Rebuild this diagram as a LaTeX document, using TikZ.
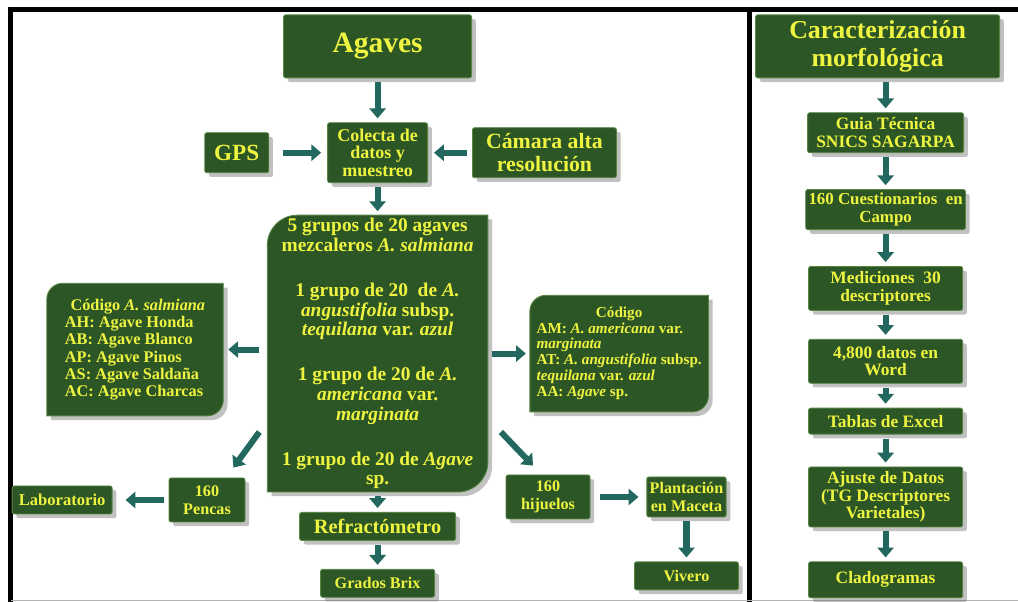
\documentclass[tikz,border=0pt]{standalone}
\usepackage{fontspec}
\setmainfont{Liberation Serif}
\usepackage{tikz}
\usetikzlibrary{arrows.meta,positioning,shadows,backgrounds,calc}
\definecolor{boxgreen}{RGB}{44,86,38}
\definecolor{edgegreen}{RGB}{86,134,66}
\definecolor{txtyellow}{RGB}{238,244,64}
\definecolor{arrowteal}{RGB}{34,104,94}

% green panel with two rounded corners (top left, bottom right)
\newcommand{\diagback}[2]{%
  \fill[boxgreen,draw=edgegreen,line width=0.6pt,
        drop shadow={shadow xshift=3pt,shadow yshift=-3pt,opacity=0.4,fill=black!60}]
    ([yshift=-#2]#1.north west) arc[start angle=180,end angle=90,radius=#2]
    -- (#1.north east) -- ([yshift=#2]#1.south east)
    arc[start angle=0,end angle=-90,radius=#2] -- (#1.south west) -- cycle;}

\begin{document}
\begin{tikzpicture}[node distance=8mm,
    box/.style={draw=edgegreen,line width=0.6pt,fill=boxgreen,rounded corners=1.5pt,
                text=txtyellow,align=center,inner sep=2pt,
                drop shadow={shadow xshift=3pt,shadow yshift=-3pt,opacity=0.4,fill=black!60}},
    diag/.style={text=txtyellow,inner sep=2pt},
    fsz/.style 2 args={font=\bfseries\fontsize{#1}{#2}\selectfont},
    sz/.style 2 args={minimum width=#1,minimum height=#2},
    flow/.style={arrowteal,line width=4.3pt,-{Triangle[width=11.5pt,length=7pt]},
                 shorten >=1mm,shorten <=1mm}]
  \useasboundingbox (0,0) rectangle (254.5mm,-150.5mm);
  % frame
  \draw[line width=1.3mm] (2mm,-2.3mm) -- (254.5mm,-2.3mm);
  \draw[line width=1.3mm] (2.7mm,-2.3mm) -- (2.7mm,-150.5mm);
  \draw[line width=1.3mm] (187.4mm,-2.3mm) -- (187.4mm,-150.5mm);
  \draw[gray!60,line width=0.4pt] (2.7mm,-150.1mm) -- (254.5mm,-150.1mm);

  % left panel
  \node[box,fsz={21}{23},sz={47mm}{15.75mm}] (agaves) at (94.4mm,-11.6mm) {Agaves};
  \node[box,fsz={12.8}{12.3},sz={25mm}{15mm},below=11mm of agaves] (colecta)
       {Colecta de\\datos y\\muestreo};
  \node[box,fsz={16.5}{18},sz={16mm}{10mm},left=14.5mm of colecta] (gps) {GPS};
  \node[box,fsz={15.5}{16},sz={36mm}{12.5mm},right=11mm of colecta] (camara)
       {Cámara alta\\resolución};
  \node[diag,fsz={13.8}{14},sz={55mm}{69mm},align=center,below=8mm of colecta] (grupos)
       {5 grupos de 20 agaves\\
        mezcaleros \textit{A. salmiana}\\[18pt]
        1 grupo de 20~ de \textit{A.}\\
        \textit{angustifolia} subsp.\\
        \textit{tequilana} var. \textit{azul}\\[18pt]
        1 grupo de 20 de \textit{A.}\\
        \textit{americana} var.\\
        \textit{marginata}\\[18pt]
        1 grupo de 20 de \textit{Agave}\\
        sp.};
  \node[diag,fsz={11.6}{12.2},sz={44mm}{33mm},align=left,left=11mm of grupos,yshift=1mm] (codsal)
       {\hspace*{4pt}Código \textit{A. salmiana}\\
        AH: Agave Honda\\
        AB: Agave Blanco\\
        AP: Agave Pinos\\
        AS: Agave Saldaña\\
        AC: Agave Charcas};
  \node[diag,fsz={10.8}{11.2},sz={44.5mm}{29mm},right=10.5mm of grupos] (codotro)
       {\begin{tabular}{@{}l@{}}
        \multicolumn{1}{@{}c@{}}{Código}\\
        AM: \textit{A. americana} var.\\
        \textit{marginata}\\
        AT: \textit{A. angustifolia} subsp.\\
        \textit{tequilana} var. \textit{azul}\\
        AA: \textit{Agave} sp.
        \end{tabular}};
  \node[box,fsz={14.5}{16},sz={39mm}{7mm},below=5mm of grupos] (refr) {Refractómetro};
  \node[box,fsz={11.5}{13},sz={28.5mm}{7mm},below=7mm of refr] (brix) {Grados Brix};
  \node[box,fsz={11.5}{12.5},sz={19mm}{11mm}] (pencas) at (51.75mm,-125mm) {160\\Pencas};
  \node[box,fsz={11.8}{13},sz={25mm}{7mm},left=14mm of pencas] (lab) {Laboratorio};
  \node[box,fsz={11.5}{12.5},sz={21mm}{11mm}] (hijuelos) at (137mm,-124.25mm) {160\\hijuelos};
  \node[box,fsz={11.5}{12.5},sz={19.5mm}{10mm},right=14mm of hijuelos] (maceta)
       {Plantación\\en Maceta};
  \node[box,fsz={11.5}{13},sz={26mm}{7mm},below=11mm of maceta] (vivero) {Vivero};

  \begin{scope}[on background layer]
    \fill[white] (0,0) rectangle (254.5mm,-150.5mm);
    \diagback{grupos}{7.5mm}
    \diagback{codsal}{4mm}
    \diagback{codotro}{4mm}
  \end{scope}

  \draw[flow] (agaves) -- (colecta);
  \draw[flow,shorten <=3.5mm,shorten >=1.5mm] (gps) -- (colecta);
  \draw[flow,shorten <=1.25mm,shorten >=1.5mm] (camara) -- (colecta);
  \draw[flow] (colecta) -- (grupos);
  \draw[flow,shorten <=2mm,shorten >=1.25mm] (grupos.west |- codsal) -- (codsal);
  \draw[flow] (grupos.east |- codotro) -- (codotro);
  \draw[flow,shorten <=0pt,shorten >=0pt] ([shift={(-2mm,15mm)}]grupos.south west)
       -- ([shift={(-3mm,2.5mm)}]pencas.north east);
  \draw[flow,shorten <=0pt,shorten >=0pt] ([shift={(3.25mm,15mm)}]grupos.south east)
       -- ([shift={(-3.75mm,2.25mm)}]hijuelos.north);
  \draw[flow,shorten <=1.25mm,shorten >=3.25mm] (pencas) -- (lab);
  \draw[flow,shorten <=2.5mm,shorten >=2mm] (hijuelos) -- (maceta);
  \draw[flow] (maceta) -- (vivero);
  \draw[flow] (grupos) -- (refr);
  \draw[flow] (refr) -- (brix);

  % right panel
  \node[box,fsz={18.4}{19.5},sz={61mm}{15.75mm}] (carac) at (219.4mm,-11.6mm)
       {Caracterización\\morfológica};
  \node[box,fsz={12.4}{12.4},sz={39mm}{10mm},below=8.5mm of carac,xshift=2mm] (guia)
       {Guia Técnica\\SNICS SAGARPA};
  \node[box,fsz={12}{12.4},sz={38.5mm}{10mm},below=9mm of guia] (cuest)
       {160 Cuestionarios~ en\\Campo};
  \node[box,fsz={12.4}{12.4},sz={38.5mm}{11mm},below=9mm of cuest] (medic)
       {Mediciones~ 30\\descriptores};
  \node[box,fsz={12.4}{12.4},sz={38.5mm}{11mm},below=7mm of medic] (datos)
       {4,800 datos en\\Word};
  \node[box,fsz={12.4}{12.4},sz={38.5mm}{6.5mm},below=6mm of datos] (tablas)
       {Tablas de Excel};
  \node[box,fsz={12.4}{12.4},sz={38.5mm}{15mm},below=8mm of tablas] (ajuste)
       {Ajuste de Datos\\(TG Descriptores\\Varietales)};
  \node[box,fsz={12.4}{12.4},sz={38.5mm}{9mm},below=8.5mm of ajuste] (clado)
       {Cladogramas};

  \draw[flow] (carac.south -| guia.north) -- (guia.north);
  \draw[flow] (guia) -- (cuest);
  \draw[flow] (cuest) -- (medic);
  \draw[flow] (medic) -- (datos);
  \draw[flow] (datos) -- (tablas);
  \draw[flow] (tablas) -- (ajuste);
  \draw[flow] (ajuste) -- (clado);
\end{tikzpicture}
\end{document}
